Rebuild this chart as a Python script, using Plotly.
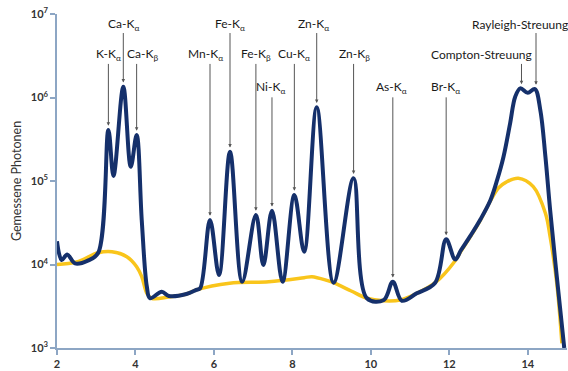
import plotly.graph_objects as go
import math

# Energy (keV) and measured photons of the spectrum (blue)
spec_energy = [2.00, 2.12, 2.26, 2.46, 2.80, 3.05, 3.31, 3.44, 3.69, 3.88, 4.03, 4.16, 4.29, 4.37,
               4.67, 4.85, 5.30, 5.55, 5.65, 5.90, 6.13, 6.41, 6.72, 7.07, 7.26, 7.48, 7.75, 8.05,
               8.30, 8.62, 9.05, 9.56, 9.90, 10.33, 10.56, 10.79, 11.17, 11.64, 11.92, 12.15,
               12.30, 12.55, 12.80, 13.05, 13.22, 13.38, 13.55, 13.68, 13.81, 14.00, 14.18, 14.32,
               14.45, 14.57, 14.74, 14.93]
spec_counts = [19000, 11300, 13200, 10300, 11200, 13800, 408000, 115000, 1345000, 148000, 356000,
               34100, 5420, 3940, 4720, 4200, 4430, 4960, 5200, 34100, 7480, 224000, 6220, 39200,
               9860, 44100, 6220, 67900, 14200, 764000, 6050, 108000, 3940, 3760, 6220, 3680, 4520,
               6050, 20000, 11500, 14900, 22500, 35100, 59200, 103000, 194000, 491000, 1023000,
               1288000, 1140000, 1264000, 708000, 195000, 45000, 7150, 1000]

# Background (yellow)
bg_energy = [2.00, 2.50, 3.05, 3.40, 3.78, 4.03, 4.16, 4.29, 4.41, 4.85, 5.30, 5.55, 6.40, 7.40,
             8.30, 8.50, 8.90, 9.05, 9.50, 9.90, 10.33, 10.75, 11.17, 11.64, 12.15, 12.30, 12.55,
             12.80, 13.05, 13.25, 13.45, 13.76, 14.14, 14.45, 14.57, 14.74, 14.87]
bg_counts = [10000, 10700, 13800, 14200, 12400, 9420, 7150, 4520, 3940, 4080, 4430, 4960, 5960,
             6220, 6950, 7150, 6400, 6050, 4820, 3940, 3680, 3760, 4520, 6050, 11100, 14500, 22000,
             34500, 58000, 82400, 97000, 108000, 85500, 41000, 21500, 5960, 1140]

# Peak labels: text, energy of arrow, label row (0 = top), text energy
labels = ["K-K<sub>α</sub>", "Ca-K<sub>α</sub>", "Ca-K<sub>β</sub>", "Mn-K<sub>α</sub>",
          "Fe-K<sub>α</sub>", "Fe-K<sub>β</sub>", "Ni-K<sub>α</sub>", "Cu-K<sub>α</sub>",
          "Zn-K<sub>α</sub>", "Zn-K<sub>β</sub>", "As-K<sub>α</sub>", "Br-K<sub>α</sub>",
          "Compton-Streuung", "Rayleigh-Streuung"]
label_energy = [3.31, 3.69, 4.03, 5.90, 6.41, 7.07, 7.48, 8.05, 8.62, 9.56, 10.56, 11.92, 13.84, 14.21]
label_peak = [408000, 1345000, 356000, 34100, 224000, 39200, 44100, 67900, 764000, 108000, 6220,
              20000, 1288000, 1264000]
label_row = [1, 0, 1, 1, 0, 1, 2, 1, 0, 1, 2, 2, 1, 0]
label_text_energy = [3.31, 3.69, 4.17, 5.79, 6.41, 7.07, 7.44, 8.05, 8.55, 9.58, 10.53, 11.90, 12.82, 13.80]

row_text_log = [6.88, 6.52, 6.12]
row_tail_log = [6.79, 6.42, 6.02]

NAVY = "#15306b"
YELLOW = "#f9c51b"
AXIS = "#8da6c4"
FONT = "Lato"

fig = go.Figure()
fig.add_trace(go.Scatter(x=bg_energy, y=bg_counts, mode="lines",
                         line=dict(color=YELLOW, width=3.5, shape="spline", smoothing=1.0),
                         hoverinfo="skip", showlegend=False))
fig.add_trace(go.Scatter(x=spec_energy, y=spec_counts, mode="lines",
                         line=dict(color=NAVY, width=4, shape="spline", smoothing=1.0),
                         hoverinfo="skip", showlegend=False))

annotations = []
for txt, e, pk, row, te in zip(labels, label_energy, label_peak, label_row, label_text_energy):
    annotations.append(dict(x=te, y=row_text_log[row], xref="x", yref="y", text=txt,
                            showarrow=False, font=dict(family=FONT, size=12, color="#1a1a1a"),
                            xanchor="center", yanchor="middle"))
    annotations.append(dict(x=e, y=math.log10(pk) + 0.05, xref="x", yref="y", text="",
                            showarrow=True, ax=e, ay=row_tail_log[row], axref="x", ayref="y",
                            arrowhead=2, arrowsize=0.7, arrowwidth=1, arrowcolor="#555",
                            standoff=0, startstandoff=0))

fig.update_layout(
    width=568, height=371,
    margin=dict(l=57, r=1, t=14, b=23),
    paper_bgcolor="white", plot_bgcolor="white",
    font=dict(family=FONT, color="#333"),
    annotations=annotations,
    showlegend=False,
)
fig.update_xaxes(range=[2, 15], tickvals=[2, 4, 6, 8, 10, 12, 14],
                 showgrid=False, zeroline=False, showline=True, linecolor=AXIS, linewidth=1.5,
                 ticks="outside", ticklen=5, tickcolor=AXIS, tickwidth=1.5,
                 tickfont=dict(family=FONT, size=11, color="#333", weight="bold"))
fig.update_yaxes(type="log", range=[3, 7],
                 tickvals=[1e3, 1e4, 1e5, 1e6, 1e7],
                 ticktext=["10<sup>3</sup>", "10<sup>4</sup>", "10<sup>5</sup>", "10<sup>6</sup>", "10<sup>7</sup>"],
                 showgrid=False, zeroline=False, showline=True, linecolor=AXIS, linewidth=1.5,
                 ticks="outside", ticklen=5, tickcolor=AXIS, tickwidth=1.5,
                 tickfont=dict(family=FONT, size=11, color="#333", weight="bold"),
                 title=dict(text="Gemessene Photonen", font=dict(family=FONT, size=12.5, color="#333"),
                            standoff=6))

fig.write_html("out.html", config={"displayModeBar": False},
               post_script="document.body.style.margin='0px';")
